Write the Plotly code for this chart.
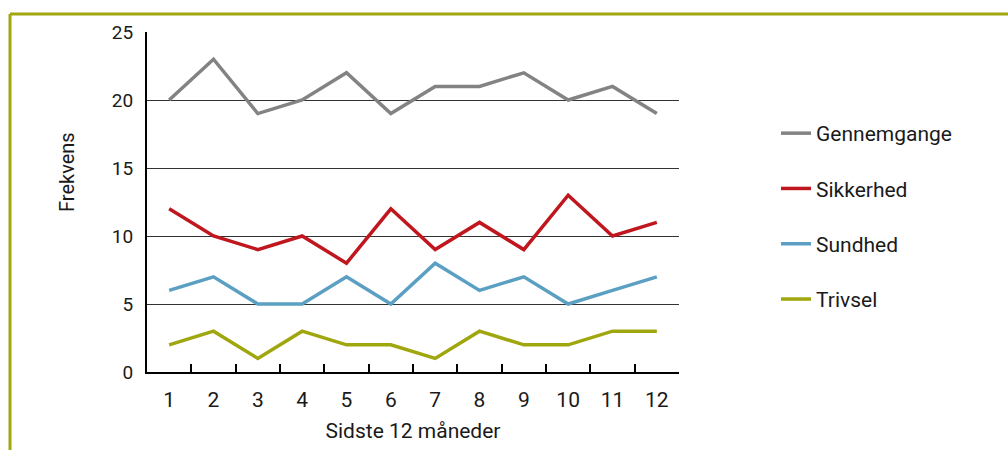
import plotly.graph_objects as go

months = [str(i) for i in range(1, 13)]
gennemgange = [20, 23, 19, 20, 22, 19, 21, 21, 22, 20, 21, 19]
sikkerhed = [12, 10, 9, 10, 8, 12, 9, 11, 9, 13, 10, 11]
sundhed = [6, 7, 5, 5, 7, 5, 8, 6, 7, 5, 6, 7]
trivsel = [2, 3, 1, 3, 2, 2, 1, 3, 2, 2, 3, 3]

series = [
    ("Gennemgange", gennemgange, "#838383"),
    ("Sikkerhed", sikkerhed, "#c0171f"),
    ("Sundhed", sundhed, "#5b9fc2"),
    ("Trivsel", trivsel, "#a0a70e"),
]

FONT = "Roboto"
fig = go.Figure()
for name, vals, col in series:
    fig.add_trace(go.Scatter(
        x=months, y=vals, mode="lines", name=name, legendgroup=name,
        line=dict(color=col, width=3.5),
    ))

L, R, T, B = 147, 329, 32, 78
W, H = 1008, 450
pw = W - L - R
ph = H - T - B
olive = "#a2a60f"
fig.update_layout(
    width=W, height=H,
    margin=dict(l=L, r=R, t=T, b=B),
    paper_bgcolor="white", plot_bgcolor="white",
    font=dict(family=FONT, size=19, color="#1a1a1a"),
    showlegend=True,
    legend=dict(x=(776 - L) / pw, xanchor="left", y=(H - B - 113) / ph, yanchor="top",
                tracegroupgap=25, font=dict(size=21), bgcolor="rgba(0,0,0,0)"),
    xaxis=dict(type="category", range=[-0.5, 11.5], showline=True, linecolor="black",
               linewidth=2, ticks="inside", tickson="boundaries", ticklen=8,
               tickcolor="black", tickwidth=1.5, showgrid=False,
               tickfont=dict(size=21), ticklabelstandoff=8,
               title=dict(text="Sidste 12 måneder", standoff=12,
                          font=dict(size=21, family=FONT))),
    yaxis=dict(range=[0, 25], dtick=5, showline=True, linecolor="black", linewidth=2,
               showgrid=True, gridcolor="#333333", gridwidth=1, zeroline=False,
               ticks="", ticklabelstandoff=8),
    annotations=[
        dict(text="Frekvens", textangle=-90, xref="paper", yref="paper",
             x=(67 - L) / pw, y=(H - B - 172) / ph, xanchor="center", yanchor="middle",
             showarrow=False, font=dict(size=20)),
    ],
    shapes=[
        dict(type="line", xref="paper", yref="paper",
             x0=(10 - L) / pw, x1=(W - L) / pw, y0=(H - B - 14) / ph, y1=(H - B - 14) / ph,
             line=dict(color=olive, width=3)),
        dict(type="line", xref="paper", yref="paper",
             x0=(10 - L) / pw, x1=(10 - L) / pw, y0=(H - B - 14) / ph, y1=-B / ph,
             line=dict(color=olive, width=3)),
    ],
)

fig.write_html("out.html", config={"displayModeBar": False},
               post_script="document.body.style.margin='0';")
